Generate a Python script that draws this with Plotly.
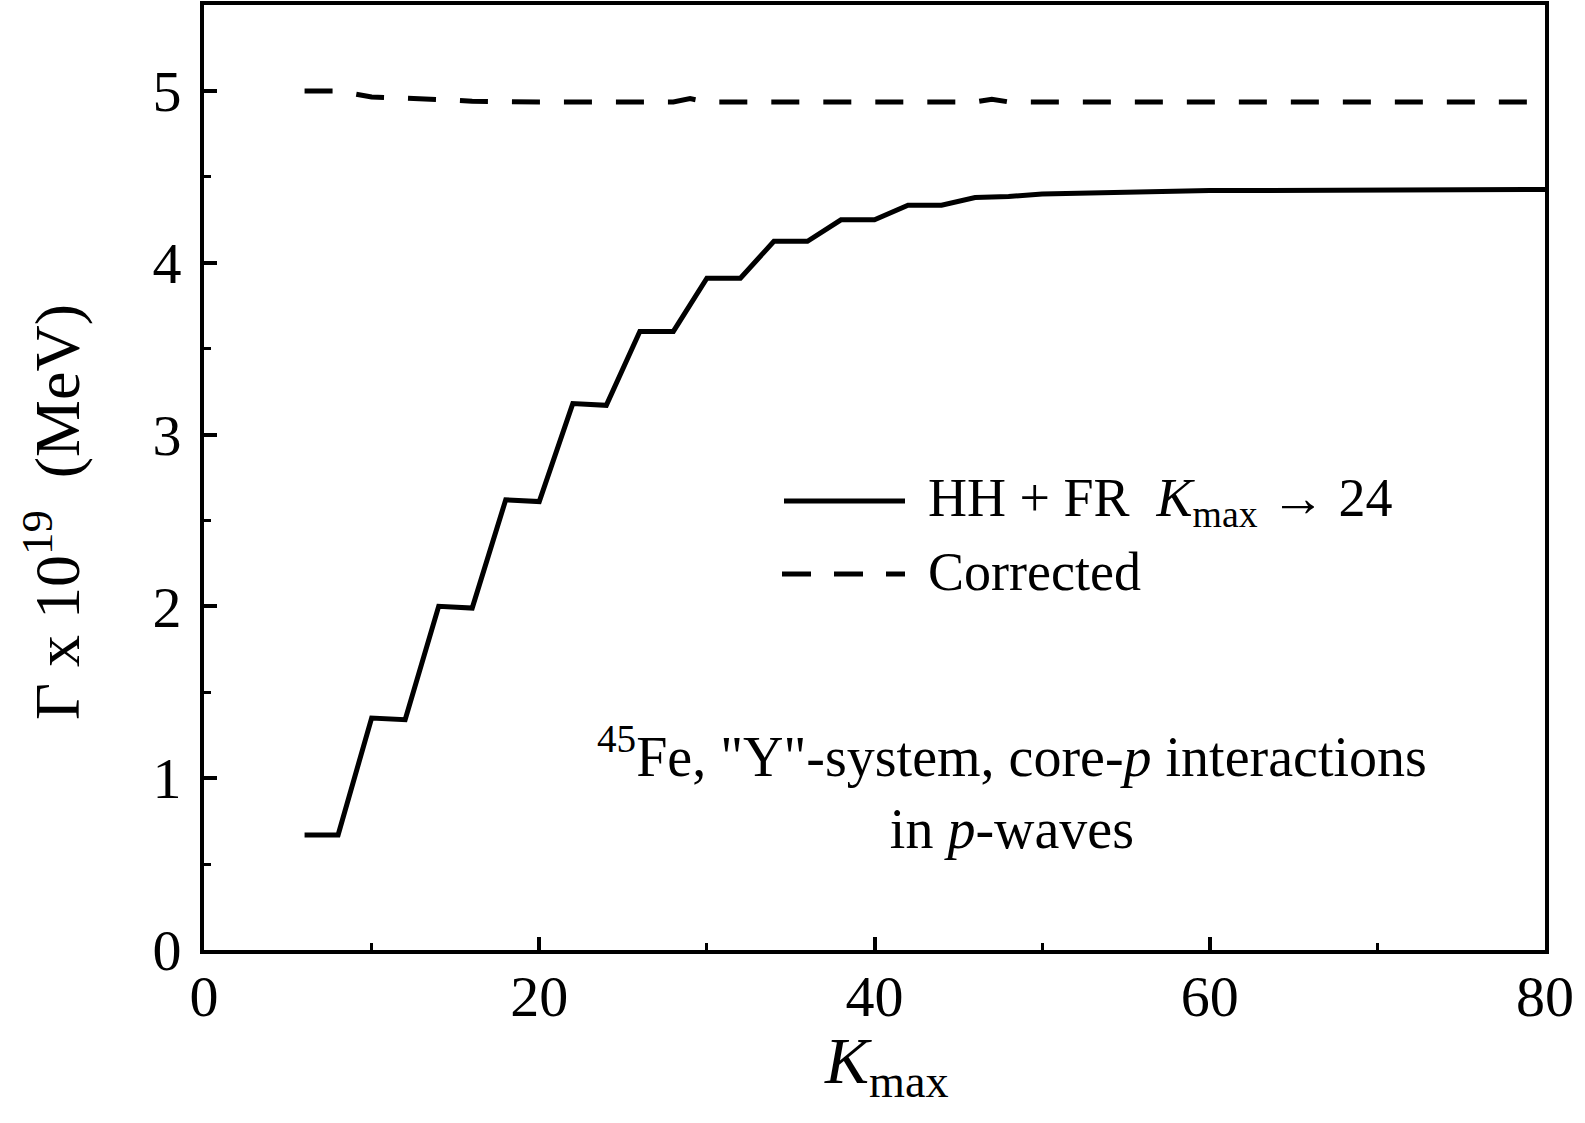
import plotly.graph_objects as go

# ---- data ----
k_solid = [6, 8, 10, 12, 14, 16, 18, 20, 22, 24, 26, 28, 30, 32, 34, 36, 38, 40,
           42, 44, 46, 48, 50, 52, 54, 56, 58, 60, 62, 64, 66, 68, 70, 72, 74, 76, 78, 80]
gamma_solid = [0.67, 0.67, 1.35, 1.34, 2.00, 1.99, 2.62, 2.61, 3.18, 3.17, 3.60, 3.60,
               3.91, 3.91, 4.125, 4.125, 4.25, 4.25, 4.335, 4.335, 4.38, 4.385, 4.40,
               4.405, 4.41, 4.415, 4.42, 4.42, 4.42, 4.421, 4.422, 4.423, 4.424, 4.424,
               4.425, 4.425, 4.426, 4.426]

k_dashed = [6, 8, 10, 12, 14, 16, 18, 20, 22, 24, 26, 28, 29, 30, 32, 34, 36, 38, 40,
            42, 44, 46, 47, 48, 50, 52, 54, 56, 58, 60, 62, 64, 66, 68, 70, 72, 74, 76, 78, 80]
gamma_dashed = [5.00, 5.00, 4.965, 4.96, 4.95, 4.94, 4.936, 4.936, 4.936, 4.936, 4.936,
                4.936, 4.955, 4.936, 4.936, 4.936, 4.936, 4.936, 4.936, 4.936, 4.936,
                4.936, 4.952, 4.936, 4.936, 4.936, 4.936, 4.936, 4.936, 4.936, 4.936,
                4.936, 4.936, 4.936, 4.936, 4.936, 4.936, 4.936, 4.936, 4.936]

x_ticks = [0, 20, 40, 60, 80]
y_ticks = [0, 1, 2, 3, 4, 5]

legend_solid = "HH + FR  <i>K</i><sub>max</sub> \u2192 24"
legend_dashed = "Corrected"
note_text = "<sup>45</sup>Fe, \"Y\"-system, core-<i>p</i> interactions<br>in <i>p</i>-waves"

FONT = "Liberation Serif, Times New Roman, serif"
W, H = 1585, 1123
ML, MR, MT, MB = 204, 40, 5, 173
PW, PH = W - ML - MR, H - MT - MB


def px(xp):
    return (xp - ML) / PW


def py(yp):
    return (H - MB - yp) / PH


fig = go.Figure()
fig.add_trace(go.Scatter(x=k_solid, y=gamma_solid, mode="lines",
                         line=dict(color="black", width=5), showlegend=False))
fig.add_trace(go.Scatter(x=k_dashed, y=gamma_dashed, mode="lines",
                         line=dict(color="black", width=5, dash="28px,24px"),
                         showlegend=False))

axis_common = dict(
    showline=True, linecolor="black", linewidth=4, mirror=True,
    ticks="inside", ticklen=13, tickwidth=4, tickcolor="black",
    showgrid=False, zeroline=False,
    tickfont=dict(family=FONT, size=58, color="black"),
)

fig.update_xaxes(range=[0, 80], tickvals=x_ticks, ticklabelstandoff=-8,
                 minor=dict(dtick=10, ticks="inside", ticklen=7, tickwidth=3,
                            tickcolor="black"),
                 **axis_common)
fig.update_yaxes(range=[0, 5.5], tickvals=y_ticks, ticklabelstandoff=7,
                 minor=dict(dtick=0.5, ticks="inside", ticklen=7, tickwidth=3,
                            tickcolor="black"),
                 **axis_common)

shapes = [
    dict(type="line", xref="paper", yref="paper", x0=px(784), x1=px(905),
         y0=py(501), y1=py(501), line=dict(color="black", width=5)),
    dict(type="line", xref="paper", yref="paper", x0=px(782), x1=px(905),
         y0=py(574), y1=py(574), line=dict(color="black", width=5, dash="29px,23px")),
]

annotations = [
    dict(text=legend_solid, xref="paper", yref="paper", x=px(926), y=py(501),
         xanchor="left", yanchor="middle", showarrow=False,
         font=dict(family=FONT, size=54, color="black")),
    dict(text=legend_dashed, xref="paper", yref="paper", x=px(926), y=py(572),
         xanchor="left", yanchor="middle", showarrow=False,
         font=dict(family=FONT, size=54, color="black")),
    dict(text=note_text, xref="paper", yref="paper", x=px(1012), y=py(788),
         xanchor="center", yanchor="middle", align="center", showarrow=False,
         font=dict(family=FONT, size=56, color="black")),
    dict(text="<i>K</i><sub>max</sub>", xref="paper", yref="paper", x=px(887),
         y=py(1065), xanchor="center", yanchor="middle", showarrow=False,
         font=dict(family=FONT, size=66, color="black")),
    dict(text="\u0393 x 10<sup>19</sup>  (MeV)", xref="paper", yref="paper",
         x=px(52), y=py(512), xanchor="center", yanchor="middle", textangle=-90,
         showarrow=False, font=dict(family=FONT, size=64, color="black")),
]

fig.update_layout(
    width=W, height=H,
    margin=dict(l=ML, r=MR, t=MT, b=MB, autoexpand=False),
    paper_bgcolor="white", plot_bgcolor="white",
    shapes=shapes, annotations=annotations,
    showlegend=False,
)

fig.write_html("out.html", config={"displayModeBar": False},
               post_script="document.body.style.margin='0px';")
